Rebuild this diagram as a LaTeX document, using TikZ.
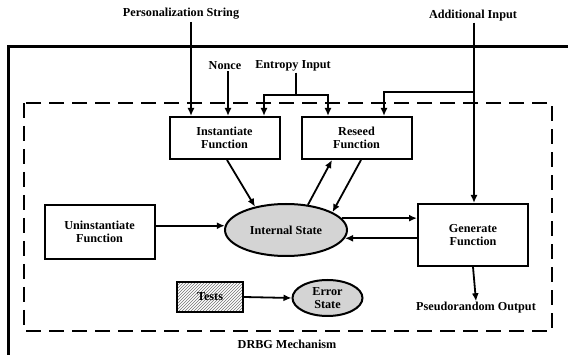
\documentclass[tikz,border=0pt]{standalone}
\usepackage{fontspec}
\setmainfont{Liberation Serif}
\usepackage{tikz}
\usetikzlibrary{positioning, arrows.meta, calc, shapes.geometric, patterns}
\definecolor{state-gray}{HTML}{D4D4D4}

\begin{document}
\begin{tikzpicture}[
    x=1pt, y=-1pt,
    font=\fontsize{12.2}{12.5}\selectfont\bfseries,
    box/.style={draw, line width=2pt, fill=white, minimum width=110pt, minimum height=42pt,
                align=center, inner sep=2pt},
    oval/.style={draw, ellipse, line width=2pt, fill=state-gray, align=center, inner sep=0pt},
    arr/.style={-{Latex[length=8pt, width=7pt]}, line width=1.8pt},
    lnk/.style={line width=1.8pt},
    lbl/.style={inner sep=1pt},
]
    \useasboundingbox (0,0) rectangle (568,355);

    % Frames
    \draw[line width=3pt] (568,47) -- (8,47) -- (8,356);
    \draw[line width=2pt, dash pattern=on 15pt off 8pt] (24,103) rectangle (552,331);

    % Inputs
    \node[lbl] (pers) at (181,14) {Personalization String};
    \node[lbl] (nonce) at (225,66) {Nonce};
    \node[lbl] (entropy) at (293,66) {Entropy Input};
    \node[lbl] (addin) at (473,16) {Additional Input};

    % Functions
    \node[box] (inst) at (224.5,138) {Instantiate\\Function};
    \node[box] (reseed) at (356.5,138) {Reseed\\Function};
    \node[box, minimum height=54pt] (uninst) at (99.5,232) {Uninstantiate\\Function};
    \node[box, minimum height=62pt] (gen) at (473,235) {Generate\\Function};

    % States
    \node[oval, minimum width=122pt, minimum height=52pt] (state) at (286,230) {Internal State};
    \node[box, minimum width=66pt, minimum height=30pt, pattern=north east lines,
          pattern color=black!55] (tests) at (210,297) {Tests};
    \node[oval, minimum width=70pt, minimum height=36pt] (err) at (327.5,298) {Error\\State};

    % Outputs
    \node[lbl] (out) at (476,308) {Pseudorandom Output};
    \node[lbl] (mech) at (287,344) {DRBG Mechanism};

    % Input arrows
    \coordinate (p1) at (191,22);
    \coordinate (e1) at (296,95);
    \coordinate (a1) at (474,92);
    \draw[arr] (p1) -- (p1 |- inst.north);
    \draw[arr] (nonce.south -| 228,0) -- (inst.north -| 228,0);
    \draw[lnk] (entropy.south -| e1) -- (e1);
    \draw[arr] (e1) -| (inst.north -| 264,0);
    \draw[arr] (e1) -| (reseed.north -| 328,0);
    \draw[arr] (addin.south -| a1) -- (gen.north -| a1);
    \draw[arr] (a1) -| (reseed.north -| 384,0);

    % State arrows
    \draw[arr] ([xshift=2.5pt]inst.south) -- (state.143);
    \draw[arr] (state.49) -- ([xshift=-24.5pt]reseed.south);
    \draw[arr] ([xshift=4.5pt]reseed.south) -- (state.21);
    \draw[arr] (uninst.east |- state.176) -- (state.176);
    \draw[arr] (state.12) -- (state.12 -| gen.west);
    \draw[arr] (state.-8 -| gen.west) -- (state.-8);
    \draw[arr] (gen.south) -- (out.north);
    \draw[arr] (tests.east) -- (err.west);

\end{tikzpicture}
\end{document}
